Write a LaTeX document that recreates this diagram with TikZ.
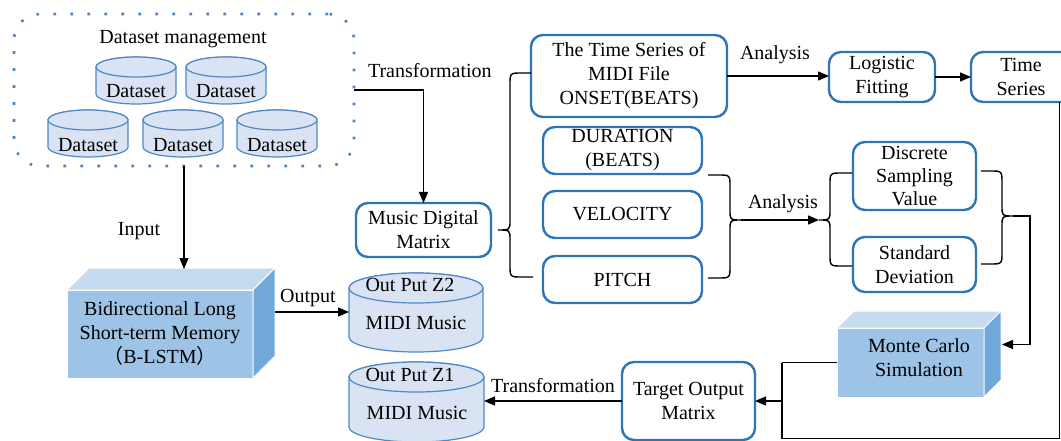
\documentclass[tikz,border=0pt]{standalone}
\usepackage{fontspec}
\setmainfont{Liberation Serif}
\newfontfamily\cjk{Noto Sans CJK SC}
\usetikzlibrary{arrows.meta}

\definecolor{boxblue}{HTML}{2E75B6}
\definecolor{dotblue}{HTML}{4A86C5}
\definecolor{drumfill}{HTML}{DAE3F3}
\definecolor{drumline}{HTML}{5088C6}
\definecolor{cubefront}{HTML}{9DC3E6}
\definecolor{cubetop}{HTML}{C5DCF0}
\definecolor{cubeside}{HTML}{70A8DA}

\tikzset{
  txt/.style={font=\fontsize{20}{24}\selectfont, inner sep=0pt, outer sep=0pt, align=center, text=black},
  lbl/.style={txt, text height=14pt, text depth=4pt},
  rbox/.style={txt, draw=boxblue, line width=2.4pt, rounded corners=12pt, fill=white},
  frontface/.style={txt, fill=cubefront, draw=white, line width=1pt},
  link/.style={draw=black, line width=1.4pt},
  arr/.style={link, -{Triangle[length=11pt,width=9pt]}},
  drumstyle/.style={draw=drumline, line width=1.2pt, fill=drumfill},
}

% drum: #1 name, #2 centre x, #3 top y, #4 width, #5 height, #6 half-height of the end ellipse
\newcommand\drum[6]{%
  \path[drumstyle] ({#2-#4/2}, {#3+#6}) -- ({#2-#4/2}, {#3+#5-#6})
     arc[start angle=180, end angle=360, x radius=#4/2*1pt, y radius=#6*1pt]
     -- ({#2+#4/2}, {#3+#6})
     arc[start angle=0, end angle=180, x radius=#4/2*1pt, y radius=#6*1pt] -- cycle;
  \path[drumstyle] (#2, {#3+#6}) ellipse[x radius=#4/2*1pt, y radius=#6*1pt];
  \node[inner sep=0pt, outer sep=0pt, minimum width=#4*1pt, minimum height=#5*1pt] (#1) at (#2, {#3+#5/2}) {};
}

% top and side faces of a box whose front face is node #1, depth #2
\newcommand\cubefaces[2]{%
  \path[fill=cubetop, draw=white, line width=1pt] (#1.north west) -- ++(#2,-#2)
     -- ([shift={(#2,-#2)}]#1.north east) -- (#1.north east) -- cycle;
  \path[fill=cubeside, draw=white, line width=1pt] (#1.north east) -- ++(#2,-#2)
     -- ([shift={(#2,-#2)}]#1.south east) -- (#1.south east) -- cycle;
}

% curly brace: #1 side sign (1: arms to the right of the spine, -1: to the left),
% #2 top arm end x, #3 bottom arm end x, #4 spine x, #5 tip x, #6 top y, #7 tip y, #8 bottom y
\newcommand\curly[8]{%
  \draw[link] (#2,#6) -- ({#4+#1*12},#6) .. controls (#4,#6) .. (#4,{#6+12})
     -- (#4,{#7-10}) .. controls (#4,#7) .. (#5,#7) .. controls (#4,#7) .. (#4,{#7+10})
     -- (#4,{#8-12}) .. controls (#4,#8) .. ({#4+#1*12},#8) -- (#3,#8);
}

\begin{document}
\begin{tikzpicture}[x=1pt, y=-1pt]
\useasboundingbox (0,0) rectangle (1061,441);

% ---- dataset management group ----
\node[draw=dotblue, line width=2.6pt, dash pattern=on 2.6pt off 14.4pt,
      rounded corners=26pt, minimum width=340pt, minimum height=152pt,
      inner sep=0pt, outer sep=0pt] (mgmt) at (184,90) {};
\node[lbl] (mgmttitle) at (183,39) {Dataset management};
\drum{ds1}{136}{57}{80}{47}{10}
\drum{ds2}{226}{57}{80}{47}{10}
\drum{ds3}{88}{110}{80}{47}{10}
\drum{ds4}{183}{110}{80}{47}{10}
\drum{ds5}{277}{110}{80}{47}{10}
\node[lbl] (ds1t) at (136,93) {Dataset};
\node[lbl] (ds2t) at (226,93) {Dataset};
\node[lbl] (ds3t) at (88,147) {Dataset};
\node[lbl] (ds4t) at (183,147) {Dataset};
\node[lbl] (ds5t) at (277,147) {Dataset};

% ---- B-LSTM block ----
\node[frontface, minimum width=186pt, minimum height=88pt] (lstm) at (160,334)
  {Bidirectional Long\\Short-term Memory\\{\cjk （}B-LSTM{\cjk ）}};
\cubefaces{lstm}{22}
\coordinate (lstmtop) at ([shift={(0,-21)}]lstm.north);
\coordinate (lstmout) at ([shift={(22,-22)}]lstm.east);

% ---- output drums ----
\drum{z2}{416}{273}{134}{79}{15}
\node[lbl] (z2a) at (410,286) {Out Put Z2};
\node[lbl] (z2b) at (416,324) {MIDI Music};
\drum{z1}{416.5}{362}{135}{80}{15}
\node[lbl] (z1a) at (410,376) {Out Put Z1};
\node[lbl] (z1b) at (417,414) {MIDI Music};

% ---- matrix and feature boxes ----
\node[rbox, minimum width=135pt, minimum height=54pt] (mdm) at (423.5,230) {Music Digital\\Matrix};
\node[rbox, minimum width=196pt, minimum height=82pt] (tsm) at (629,76) {The Time Series of\\MIDI File\\ONSET(BEATS)};
\node[rbox, minimum width=159pt, minimum height=47pt] (dur) at (622.5,150.5) {DURATION\\(BEATS)};
\node[rbox, minimum width=159pt, minimum height=47pt] (vel) at (622.5,214.5) {VELOCITY};
\node[rbox, minimum width=159pt, minimum height=47pt] (pit) at (622.5,279.5) {PITCH};
\node[rbox, minimum width=106pt, minimum height=50pt] (lf) at (882,77) {Logistic\\Fitting};
\node[rbox, minimum width=104pt, minimum height=50pt] (ts) at (1023,77) {\hspace*{-4pt}Time\\\hspace*{-4pt}Series};
\node[rbox, minimum width=123pt, minimum height=68pt, font=\fontsize{20}{23}\selectfont] (dsv) at (914.5,176) {Discrete\\Sampling\\Value};
\node[rbox, minimum width=123pt, minimum height=55pt] (sd) at (914.5,264.5) {Standard\\Deviation};
\node[rbox, minimum width=133pt, minimum height=78pt] (tom) at (688.5,401) {Target Output\\Matrix};

% ---- Monte Carlo block ----
\node[frontface, minimum width=147pt, minimum height=69pt] (mc) at (910.5,362.5) {};
\cubefaces{mc}{17}
\node[txt] (mctext) at (919,358) {Monte Carlo\\Simulation};
\coordinate (mcside) at ([shift={(18,-18)}]mc.east);

% ---- braces ----
\curly{1}{531}{533}{510}{498}{73}{230}{277}
\curly{-1}{708}{708}{730}{741}{175}{220}{278}
\curly{1}{852}{852}{830}{819}{173}{220}{266}
\curly{-1}{981}{981}{1002}{1013}{171}{216}{264}
\coordinate (tip2) at (741,220);
\coordinate (tip3) at (819,220);
\coordinate (tip4) at (1013,216);

% ---- connectors ----
\draw[arr] (mgmt.east) -| (mdm.north);
\node[lbl, anchor=west] (lbltrans1) at (368,73) {Transformation};
\draw[arr] (mgmt.south) -- (mgmt.south |- lstmtop);
\node[lbl] (lblinput) at (139,230) {Input};
\draw[arr] (lstmout) -- (z2.west |- lstmout);
\node[lbl] (lbloutput) at (308,297) {Output};
\draw[arr] (tsm.east) -- (tsm.east -| lf.west);
\node[lbl] (lblana1) at (775,55) {Analysis};
\draw[arr] (lf.east) -- (ts.west);
\draw[arr] (tip2) -- (tip3);
\node[lbl] (lblana2) at (783,203) {Analysis};
\draw[arr] (tip4) -- ++(17,0) |- (mcside);
\coordinate (jn) at (782,362.5);
\coordinate (corner) at (1059.5,438.5);
\draw[link] (mc.west) -- (jn);
\draw[arr] (jn) |- (tom.east);
\draw[link] (corner |- ts.south) -- (corner) -| (jn);
\draw[arr] (tom.west) -- (tom.west -| z1.east);
\node[lbl] (lbltrans2) at (553,387) {Transformation};
\end{tikzpicture}
\end{document}
